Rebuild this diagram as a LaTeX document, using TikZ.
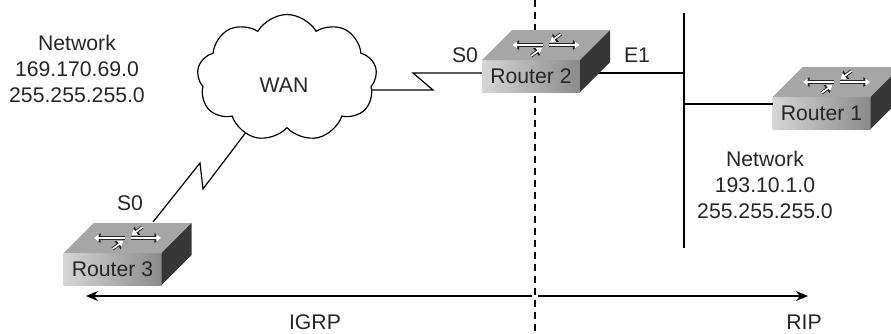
\documentclass[tikz,border=0pt]{standalone}
\usepackage{fontspec}
\setmainfont{Liberation Sans}
\usepackage{xcolor}
\usepackage{tikz}
\usetikzlibrary{shapes, arrows.meta, positioning, calc, backgrounds}

\definecolor{facetop}{HTML}{A6A6A6}
\definecolor{faceside}{HTML}{363636}
\definecolor{facelight}{HTML}{D6D6D6}
\definecolor{facedark}{HTML}{8A8A8A}

\tikzset{
  txt/.style={align=center, inner sep=0pt, text=black!85, font=\fontsize{10.6}{12.8}\selectfont},
  frontface/.style={txt, minimum width=49pt, minimum height=16pt, outer sep=0pt,
    left color=facelight, right color=facedark},
  topface/.style={fill=facetop},
  sideface/.style={fill=faceside},
  iconedge/.style={black!85, line width=1.7pt, -{Triangle[length=3.6pt,width=4.8pt]}},
  iconfill/.style={white, line width=0.8pt, -{Triangle[length=2.6pt,width=3.4pt]}},
  link/.style={black, line width=0.6pt},
  bound/.style={black, line width=0.6pt, dash pattern=on 3.5pt off 2.5pt},
  span/.style={black, line width=0.6pt, -{Stealth[length=6pt,width=5pt]}}
}

% router box: name, x, y (centre of the front face), text
\newcommand{\router}[4]{%
  \node[frontface] (#1) at (#2,#3) {#4};
  \fill[topface] (#1.north west) -- ++(30,-30) -- ++(98,0) -- (#1.north east) -- cycle;
  \fill[sideface] (#1.north east) -- ++(30,-30) -- ++(0,32) -- (#1.south east) -- cycle;
  \begin{scope}[shift={(#2+15,#3-31)}]
    \foreach \sx/\sy/\ex/\ey in {-3/0/-34/0, 3/0/34/0, 15/-11/4/-3, -15/11/-4/3}{
      \draw[iconedge] (\sx,\sy) -- (\ex,\ey);
      \draw[iconfill] (\sx,\sy) -- (\ex,\ey);
    }
  \end{scope}
}

\begin{document}
\begin{tikzpicture}[x=0.5pt, y=-0.5pt]
  \useasboundingbox (0,0) rectangle (891,333);

  \node[cloud, draw, fill=white, line width=0.6pt, cloud puffs=9, cloud puff arc=120,
        aspect=1.4, minimum width=90pt, minimum height=63.5pt, inner sep=0pt] (Wan) at (287,78) {};
  \node[txt] (WanText) at (284,85) {WAN};

  \router{Router2}{531}{76}{Router 2}
  \router{Router3}{112.5}{269}{Router 3}
  \router{Router1}{821.5}{113}{Router 1}

  \node[txt] (Network1) at (77,69) {Network\\169.170.69.0\\255.255.255.0};
  \node[txt] (Network2) at (765,185) {Network\\193.10.1.0\\255.255.255.0};
  \node[txt] (Serial2) at (465,55) {S0};
  \node[txt] (Ether2) at (637,55) {E1};
  \node[txt] (Serial3) at (130,203) {S0};
  \node[txt] (Igrp) at (315,322) {IGRP};
  \node[txt] (Rip) at (804,322) {RIP};

  \coordinate (Zig1) at (433,90);
  \coordinate (Zig2) at (413,73);
  \coordinate (Zig3) at (203,189);
  \coordinate (Zig4) at (200,163);
  \coordinate (BusTop) at (684,13);
  \coordinate (BusBottom) at (684,248);
  \coordinate (DashTop) at (535,0);
  \coordinate (DashBottom) at (535,333);
  \coordinate (IgrpStart) at (532,296);
  \coordinate (IgrpEnd) at (86,296);
  \coordinate (RipStart) at (538,296);
  \coordinate (RipEnd) at (808,296);
  \coordinate (Port2W) at ([yshift=1.5pt]Router2.west);
  \coordinate (Port2E) at ([yshift=1.5pt]Router2.east);
  \coordinate (Port1) at ([yshift=4.5pt]Router1.west);

  \begin{scope}[on background layer]
    \draw[link] (Wan.center |- Zig1) -- (Zig1) -- (Zig2) -- (Port2W);
    \draw[link] (Wan.center) -- (Zig3) -- (Zig4) -- ($(Router3.north)+(40.5,-31)$);
    \draw[link] (Port2E) -- (Port2E -| BusTop);
    \draw[bound] (DashTop) -- (DashBottom);
  \end{scope}
  \draw[link] (BusTop) -- (BusBottom);
  \draw[link] (Port1 -| BusTop) -- (Port1);

  \draw[span] (IgrpStart) -- (IgrpEnd);
  \draw[span] (RipStart) -- (RipEnd);
\end{tikzpicture}
\end{document}
